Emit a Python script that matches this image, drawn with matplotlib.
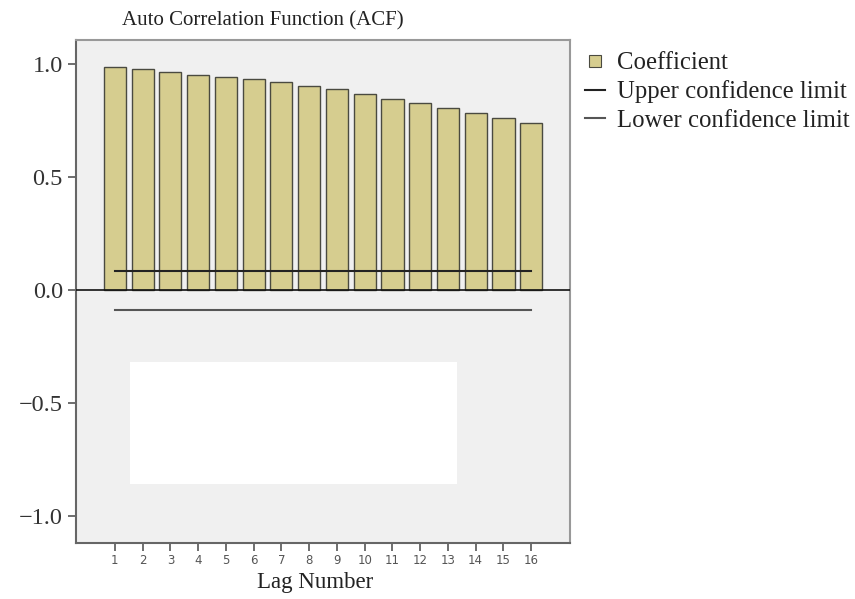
import matplotlib
matplotlib.use("Agg")
from matplotlib import pyplot as plt
from matplotlib.patches import Rectangle
from matplotlib.lines import Line2D

lags = list(range(1, 17))
coefficients = [0.987, 0.976, 0.963, 0.953, 0.942, 0.932, 0.919, 0.903,
                0.888, 0.866, 0.845, 0.826, 0.807, 0.782, 0.761, 0.738]
upper_limit = [0.084] * 16
lower_limit = [-0.088] * 16

BAR_COLOR = "#d6cd8f"
BAR_EDGE = "#4a4a40"

plt.rcParams["font.family"] = ["Liberation Serif", "DejaVu Serif"]

fig = plt.figure(figsize=(8.55, 5.99), dpi=100)
ax = fig.add_axes([0.0889, 0.0935, 0.5778, 0.8397])
ax.set_facecolor("#f0f0f0")

ax.bar(lags, coefficients, width=0.8, color=BAR_COLOR, edgecolor=BAR_EDGE,
       linewidth=1.0, zorder=2)
upper, = ax.plot(lags, upper_limit, color="#222222", linewidth=1.5, zorder=3)
lower, = ax.plot(lags, lower_limit, color="#555555", linewidth=1.5, zorder=3)
ax.axhline(0, color="#111111", linewidth=1.2, zorder=3)

# blanked-out area in the lower half
ax.add_patch(Rectangle((0.109, 0.117), 0.662, 0.243, transform=ax.transAxes,
                       facecolor="white", edgecolor="none", zorder=1))

ax.set_xlim(-0.4, 17.4)
ax.set_ylim(-1.12, 1.106)
ax.set_xticks(lags)
ax.set_xticklabels([str(l) for l in lags], family="DejaVu Sans",
                   fontsize=8.5, color="#555555")
ax.set_yticks([-1.0, -0.5, 0.0, 0.5, 1.0])
ax.set_yticklabels(["\u22121.0", "\u22120.5", "0.0", "0.5", "1.0"],
                   fontsize=17.5, color="#333333")
ax.tick_params(axis="both", direction="out", length=6, width=1.2,
               color="#555555")
ax.tick_params(axis="x", pad=2)

for side in ["top", "right"]:
    ax.spines[side].set_color("#999999")
    ax.spines[side].set_linewidth(1.5)
for side in ["left", "bottom"]:
    ax.spines[side].set_color("#666666")
    ax.spines[side].set_linewidth(1.5)

ax.text(0.379, 1.038, "Auto Correlation Function (ACF)", transform=ax.transAxes,
        ha="center", va="center", fontsize=15, color="#222222")
ax.set_xlabel("Lag Number", fontsize=16.5, color="#222222")
ax.xaxis.set_label_coords(0.485, -0.058)

coef_handle = Line2D([], [], linestyle="none", marker="s", markersize=8,
                     markerfacecolor=BAR_COLOR, markeredgecolor=BAR_EDGE,
                     markeredgewidth=0.8)
leg = fig.legend([coef_handle, upper, lower],
                 ["Coefficient", "Upper confidence limit", "Lower confidence limit"],
                 loc="upper left", bbox_to_anchor=(0.684, 0.913),
                 frameon=False, fontsize=17.8, handlelength=0.8,
                 handletextpad=0.5, labelspacing=0.24, borderaxespad=0,
                 borderpad=0)
for t in leg.get_texts():
    t.set_color("#222222")

fig.savefig("out.png", dpi=100)
